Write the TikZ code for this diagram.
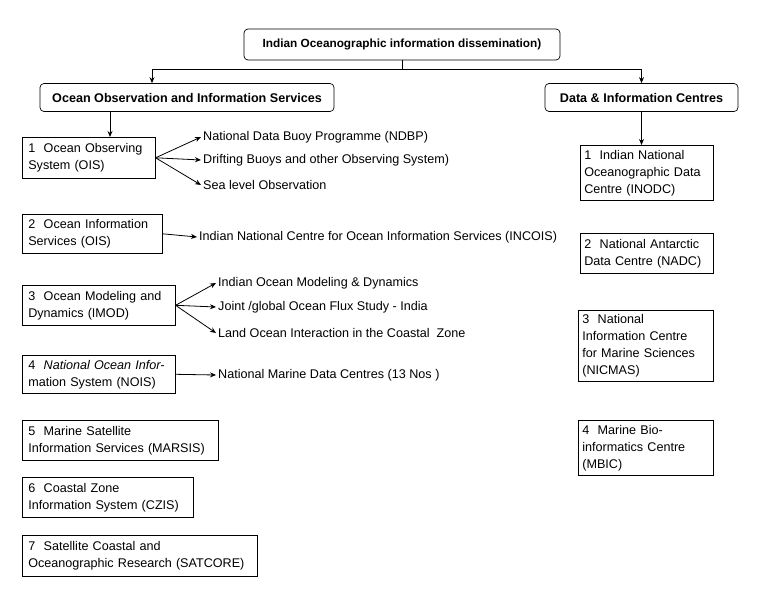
\documentclass[tikz,border=0pt]{standalone}
\usepackage{fontspec}
\setmainfont{Liberation Sans}
\usetikzlibrary{arrows.meta}
\begin{document}
\begin{tikzpicture}[x=1pt,y=-1pt,
  every node/.style={font=\fontsize{12.6}{17}\selectfont},
  head/.style={draw, rounded corners=4pt, line width=0.7pt, font=\fontsize{12.6}{14}\selectfont\bfseries, inner sep=0pt},
  box/.style={draw, line width=0.6pt, align=left, anchor=north west, inner xsep=6pt, inner ysep=0pt},
  lbl/.style={anchor=west, inner sep=2pt},
  arr/.style={-{Stealth[length=6pt,width=5pt]}, line width=0.8pt},
  ln/.style={line width=0.8pt}]
\useasboundingbox (0,0) rectangle (767,596);
% headers
\node[head, minimum width=316pt, minimum height=31pt, font=\fontsize{11.8}{14}\selectfont\bfseries] (top) at (402,44.5) {Indian Oceanographic information dissemination)};
\node[head, minimum width=294pt, minimum height=28pt] (left) at (187,97.5) {Ocean Observation and Information Services};
\node[head, minimum width=193pt, minimum height=28pt] (right) at (641.5,97.5) {Data \& Information Centres};
\coordinate (jl) at (152,69);
\coordinate (jr) at (641.5,69);
\draw[ln] (top.south) -- (top.south |- jl);
\draw[ln] (jl) -- (jr);
\draw[arr] (jl) -- (jl |- left.north);
\draw[arr] (jr) -- (right.north);
% left column
\node[box, minimum width=133pt, minimum height=41pt, text width=121pt] (o1) at (22,137) {1\ \ Ocean Observing\\System (OIS)};
\node[box, minimum width=140pt, minimum height=39pt, text width=128pt] (o2) at (22,214) {2\ \ Ocean Information\\Services (OIS)};
\node[box, minimum width=153pt, minimum height=40pt, text width=141pt] (o3) at (22,285) {3\ \ Ocean Modeling and\\Dynamics (IMOD)};
\node[box, minimum width=153pt, minimum height=38pt, text width=141pt] (o4) at (22,355) {4\ \ \textit{National Ocean Infor-}\\mation System (NOIS)};
\node[box, minimum width=196pt, minimum height=40pt, text width=184pt] (o5) at (22,420) {5\ \ Marine Satellite\\Information Services (MARSIS)};
\node[box, minimum width=171pt, minimum height=40pt, text width=159pt] (o6) at (22,477) {6\ \ Coastal Zone\\Information System (CZIS)};
\node[box, minimum width=235pt, minimum height=41pt, text width=223pt] (o7) at (22,535) {7\ \ Satellite Coastal and\\Oceanographic Research (SATCORE)};
\coordinate (la) at (110,111);
\draw[arr] (la) -- (la |- o1.north);
% right column
\node[box, minimum width=133pt, minimum height=55pt, text width=125pt, inner xsep=4pt] (d1) at (580,145) {1\ \ Indian National\\Oceanographic Data\\Centre (INODC)};
\node[box, minimum width=133pt, minimum height=40pt, text width=125pt, inner xsep=4pt] (d2) at (580,233) {2\ \ National Antarctic\\Data Centre (NADC)};
\node[box, minimum width=135pt, minimum height=71pt, text width=127pt, inner xsep=4pt] (d3) at (578,310) {3\ \ National\\Information Centre\\for Marine Sciences\\(NICMAS)};
\node[box, minimum width=135pt, minimum height=55pt, text width=127pt, inner xsep=4pt] (d4) at (578,420) {4\ \ Marine Bio-\\informatics Centre\\(MBIC)};
\draw[arr] (right.south) -- (d1.north -| right.south);
% labels
\node[lbl] (t11) at (201,137) {National Data Buoy Programme (NDBP)};
\node[lbl] (t12) at (201,160) {Drifting Buoys and other Observing System)};
\node[lbl] (t13) at (201,185) {Sea level Observation};
\node[lbl] (t21) at (197,237) {Indian National Centre for Ocean Information Services (INCOIS)};
\node[lbl] (t31) at (216,283) {Indian Ocean Modeling \& Dynamics};
\node[lbl] (t32) at (216,307) {Joint /global Ocean Flux Study - India};
\node[lbl] (t33) at (216,333) {Land Ocean Interaction in the Coastal\ \ Zone};
\node[lbl] (t41) at (216,375) {National Marine Data Centres (13 Nos )};
\draw[arr] (o1.east) -- (t11.west);
\draw[arr] (o1.east) -- (t12.west);
\draw[arr] (o1.east) -- (t13.west);
\draw[arr] (o2.east) -- (t21.west);
\draw[arr] (o3.east) -- (t31.west);
\draw[arr] (o3.east) -- (t32.west);
\draw[arr] (o3.east) -- (t33.west);
\draw[arr] (o4.east) -- (t41.west);
\end{tikzpicture}
\end{document}
